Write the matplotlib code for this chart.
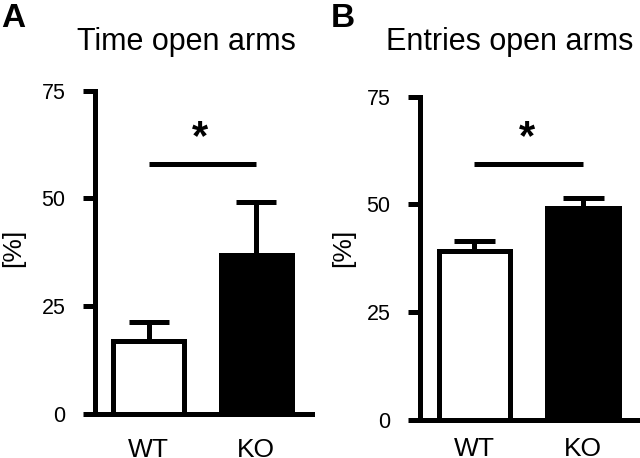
import matplotlib
matplotlib.use("Agg")
import matplotlib.pyplot as plt

plt.rcParams["font.family"] = ["Liberation Sans", "DejaVu Sans"]

groups = ["WT", "KO"]
time_mean = [17.0, 36.8]
time_sem = [4.3, 12.4]
entries_mean = [39.1, 49.1]
entries_sem = [2.5, 2.3]
yticks = [0, 25, 50, 75]
sig_height = [58.0, 59.4]

PX = 72 / 100  # points per pixel at dpi 100
LW = 5 * PX

fig = plt.figure(figsize=(6.4, 4.58), dpi=100)
ax_a = fig.add_axes([95 / 640, 1 - 414 / 458, 217 / 640, 323.3 / 458])
ax_b = fig.add_axes([420 / 640, 1 - 420 / 458, 220 / 640, 323.3 / 458])


def draw_panel(ax, means, sems, sig_y, xpad, lab_x, lab_y):
    x = [0, 1]
    ax.bar(x, means, width=0.66, color=["white", "black"], edgecolor="black",
           linewidth=LW, zorder=2)
    for xi, m, s in zip(x, means, sems):
        ax.plot([xi, xi], [m, m + s], color="black", lw=LW, solid_capstyle="butt", zorder=1)
        ax.plot([xi - 0.185, xi + 0.185], [m + s, m + s], color="black", lw=LW,
                solid_capstyle="butt", zorder=1)
    ax.plot([0, 1], [sig_y, sig_y], color="black", lw=LW, solid_capstyle="butt")
    ax.text(0.48, sig_y + 5.9, "*", ha="center", va="center", fontsize=30,
            fontweight="bold")

    ax.set_xlim(-0.5, 1.52)
    ax.set_ylim(0, 75)
    ax.set_yticks(yticks)
    ax.set_xticks(x)
    ax.set_xticklabels(groups)
    for side in ["top", "right"]:
        ax.spines[side].set_visible(False)
    for side in ["left", "bottom"]:
        ax.spines[side].set_linewidth(LW)
    ax.tick_params(axis="y", length=12 * PX, width=LW, labelsize=15.5, pad=12.5)
    ax.tick_params(axis="x", length=0, labelsize=19, pad=xpad)
    ax.set_ylabel("[%]", fontsize=19)
    ax.yaxis.set_label_coords(lab_x, lab_y)
    ax.set_facecolor("none")


draw_panel(ax_a, time_mean, time_sem, sig_height[0], 17, -0.32, 0.513)
draw_panel(ax_b, entries_mean, entries_sem, sig_height[1], 12, -0.295, 0.532)

fig.text(186.5 / 640, 1 - 50 / 458, "Time open arms", ha="center", va="baseline", fontsize=22)
fig.text(510 / 640, 1 - 50 / 458, "Entries open arms", ha="center", va="baseline", fontsize=22)
fig.text(1 / 640, 1 - 27 / 458, "A", ha="left", va="baseline", fontsize=24, fontweight="bold")
fig.text(331 / 640, 1 - 27 / 458, "B", ha="left", va="baseline", fontsize=24, fontweight="bold")

fig.savefig("out.png", dpi=100)
